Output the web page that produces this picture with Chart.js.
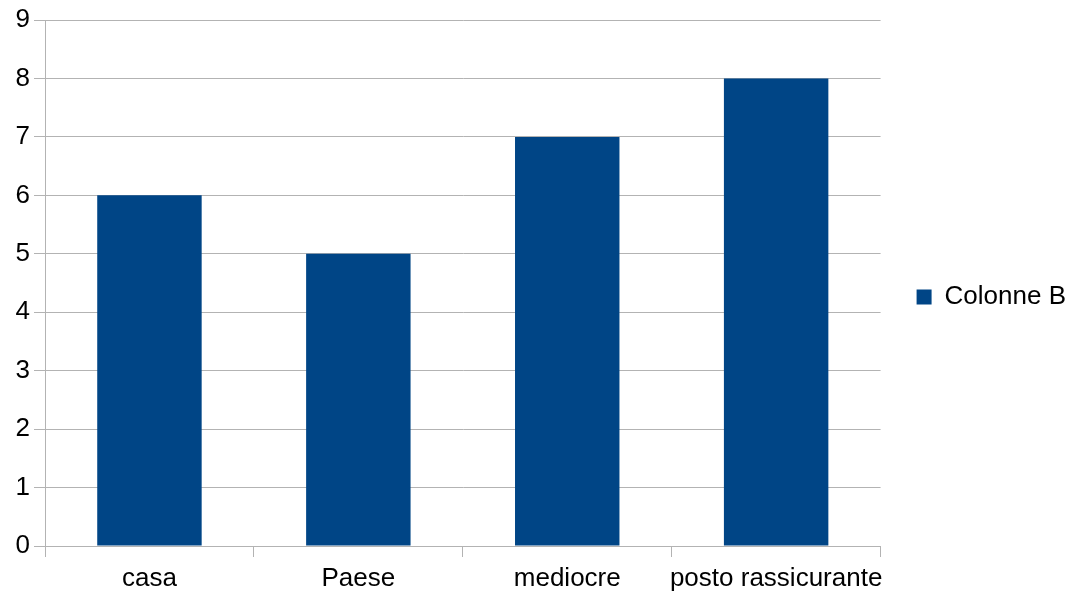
<!DOCTYPE html>
<html>
<head>
<meta charset="utf-8">
<script src="https://cdn.jsdelivr.net/npm/chart.js@4/dist/chart.umd.min.js"></script>
<style>
  html, body { margin: 0; padding: 0; background: #ffffff; }
  #wrap { width: 1071px; height: 594px; }
</style>
</head>
<body>
<div id="wrap"><canvas id="chart" width="1071" height="594"></canvas></div>
<script>
// Categories and values of the column chart
const categories = ['casa', 'Paese', 'mediocre', 'posto rassicurante'];
const seriesName = 'Colonne B';
const seriesValues = [6, 5, 7, 8];
const yTicks = [0, 1, 2, 3, 4, 5, 6, 7, 8, 9];

const GRID = '#b3b3b3';
const BAR = '#004586';
const FONT = { family: '"Liberation Sans", Arial, sans-serif', size: 26 };

new Chart(document.getElementById('chart'), {
  type: 'bar',
  data: {
    labels: categories,
    datasets: [{
      label: seriesName,
      data: seriesValues,
      backgroundColor: BAR,
      borderWidth: 0,
      categoryPercentage: 1,
      barPercentage: 0.5
    }]
  },
  options: {
    responsive: false,
    animation: false,
    devicePixelRatio: 1,
    layout: { padding: { left: 0, right: -5, top: 0, bottom: 0 } },
    plugins: {
      tooltip: { enabled: false },
      legend: {
        position: 'right',
        labels: {
          font: FONT,
          color: '#000000',
          boxWidth: 15,
          boxHeight: 15,
          padding: 36
        }
      }
    },
    scales: {
      x: {
        offset: true,
        grid: {
          offset: true,
          color: ctx => (ctx.index === 0 || ctx.index === categories.length) ? GRID : 'rgba(0,0,0,0)',
          tickColor: GRID,
          tickLength: 11,
          lineWidth: 1
        },
        border: { display: true, color: GRID },
        ticks: { font: FONT, color: '#000000', padding: 6, maxRotation: 0, autoSkip: false },
        afterFit: scale => { scale.height = 48; }
      },
      y: {
        min: 0,
        max: 9,
        afterBuildTicks: scale => { scale.ticks = yTicks.map(v => ({ value: v })); },
        grid: { color: GRID, tickColor: GRID, tickLength: 11, lineWidth: 1 },
        border: { display: true, color: GRID },
        ticks: { font: FONT, color: '#000000', padding: 4 },
        afterFit: scale => { scale.width = 45; scale.paddingTop = 20; }
      }
    }
  }
});
</script>
</body>
</html>
